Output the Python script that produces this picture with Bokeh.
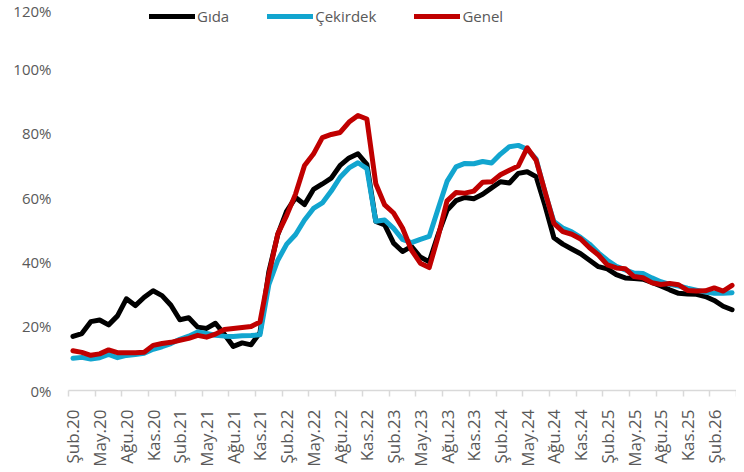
from bokeh.plotting import figure
from bokeh.models import FixedTicker, PrintfTickFormatter, Range1d, Legend, LegendItem
from bokeh.embed import file_html
from bokeh.resources import INLINE

# Monthly data, Şub.20 (Feb 2020) ... Nis.26 (Apr 2026)
gida = [
    16.8, 17.7, 21.4, 21.9, 20.4, 23.2, 28.5, 26.4, 29.0, 31.0,
    29.5, 26.5, 22.0, 22.6, 19.7, 19.3, 20.9, 17.5, 13.7, 14.8,
    14.2, 18.0, 37.0, 48.5, 55.8, 60.0, 57.8, 62.5, 64.2, 66.0,
    70.0, 72.3, 73.6, 70.3, 52.6, 51.5, 45.8, 43.2, 44.8, 41.5,
    40.0, 48.5, 56.0, 59.0, 60.0, 59.6, 61.0, 63.0, 64.9, 64.5,
    67.5, 68.0, 66.5, 57.5, 47.5, 45.5, 44.0, 42.5, 40.5, 38.5,
    37.8, 36.0, 35.0, 34.8, 34.6, 33.6, 32.5, 31.3, 30.2, 30.0,
    29.9, 29.2, 28.0, 26.2, 25.1,
]
cekirdek = [
    10.0, 10.3, 9.8, 10.2, 11.2, 10.2, 10.9, 11.2, 11.6, 12.8,
    13.6, 14.6, 15.9, 16.9, 18.2, 17.7, 17.2, 16.9, 16.8, 17.0,
    17.1, 17.3, 33.0, 40.5, 45.5, 48.5, 53.0, 56.6, 58.3, 62.0,
    66.3, 69.2, 70.8, 69.0, 52.6, 53.0, 50.4, 47.0, 46.0, 47.0,
    47.9, 56.5, 65.0, 69.5, 70.6, 70.5, 71.2, 70.7, 73.5, 75.8,
    76.2, 75.0, 72.0, 61.5, 52.5, 50.5, 49.3, 47.6, 45.5, 42.8,
    40.5, 38.6, 37.5, 36.5, 36.4, 35.0, 33.8, 33.0, 32.5, 31.8,
    31.2, 30.6, 30.2, 30.2, 30.4,
]
genel = [
    12.37, 11.86, 10.94, 11.39, 12.62, 11.76, 11.77, 11.75, 11.89, 14.03,
    14.60, 14.97, 15.61, 16.19, 17.14, 16.59, 17.53, 18.95, 19.25, 19.58,
    19.89, 21.31, 36.08, 48.69, 54.44, 61.14, 69.97, 73.50, 78.62, 79.60,
    80.21, 83.45, 85.51, 84.39, 64.27, 57.68, 55.18, 50.51, 43.68, 39.59,
    38.21, 47.83, 58.94, 61.53, 61.36, 61.98, 64.77, 64.86, 67.07, 68.50,
    69.80, 75.45, 71.60, 61.78, 51.97, 49.38, 48.58, 47.09, 44.38, 42.12,
    39.05, 38.10, 37.86, 35.41, 35.05, 33.52, 32.95, 33.29, 32.87, 31.10,
    30.90, 31.00, 31.90, 30.90, 32.70,
]
tick_labels = [
    "Şub.20", "May.20", "Ağu.20", "Kas.20",
    "Şub.21", "May.21", "Ağu.21", "Kas.21",
    "Şub.22", "May.22", "Ağu.22", "Kas.22",
    "Şub.23", "May.23", "Ağu.23", "Kas.23",
    "Şub.24", "May.24", "Ağu.24", "Kas.24",
    "Şub.25", "May.25", "Ağu.25", "Kas.25",
    "Şub.26",
]
y_ticks = [0, 20, 40, 60, 80, 100, 120]

n = len(genel)
x = list(range(n))
label_pos = [3 * i for i in range(len(tick_labels))]
boundaries = [-0.5 + 3 * k for k in range(n // 3 + 1)]

FONT = "Open Sans"
TXT = "#595959"

p = figure(width=736, height=469, output_backend="svg", toolbar_location=None,
           x_range=Range1d(-0.5, n - 0.5), y_range=Range1d(0, 120),
           min_border_left=68, min_border_right=0, min_border_top=4, min_border_bottom=73)
p.outline_line_color = None
p.xgrid.visible = False
p.ygrid.visible = False
p.background_fill_color = "white"

r1 = p.line(x, gida, line_color="#000000", line_width=5, line_join="round", line_cap="round")
r2 = p.line(x, cekirdek, line_color="#12A5CF", line_width=5, line_join="round", line_cap="round")
r3 = p.line(x, genel, line_color="#C00000", line_width=5, line_join="round", line_cap="round")

xa = p.xaxis[0]
xa.ticker = FixedTicker(ticks=label_pos, minor_ticks=boundaries)
xa.major_label_overrides = {pos: lab for pos, lab in zip(label_pos, tick_labels)}
xa.major_label_orientation = 3.14159265 / 2
xa.major_tick_line_color = None
xa.major_tick_out = 0
xa.major_tick_in = 0
xa.minor_tick_line_color = "#d9d9d9"
xa.minor_tick_line_width = 1.5
xa.minor_tick_out = 6
xa.minor_tick_in = 0
xa.axis_line_color = "#d9d9d9"
xa.axis_line_width = 1.5
xa.major_label_standoff = 13
xa.major_label_text_font = FONT
xa.major_label_text_font_size = "17px"
xa.major_label_text_color = TXT

ya = p.yaxis[0]
ya.ticker = FixedTicker(ticks=y_ticks)
ya.formatter = PrintfTickFormatter(format="%d%%")
ya.axis_line_color = None
ya.major_tick_line_color = None
ya.minor_tick_line_color = None
ya.major_tick_out = 0
ya.major_tick_in = 0
ya.major_label_standoff = 17
ya.major_label_text_font = FONT
ya.major_label_text_font_size = "15px"
ya.major_label_text_color = TXT

legend = Legend(items=[LegendItem(label="Gıda", renderers=[r1]),
                       LegendItem(label="Çekirdek", renderers=[r2]),
                       LegendItem(label="Genel", renderers=[r3])],
                orientation="horizontal", location=(81, 364),
                glyph_width=46, glyph_height=16, label_height=16, label_standoff=2,
                spacing=38, padding=0, margin=0,
                border_line_color=None, background_fill_alpha=0,
                label_text_font=FONT, label_text_font_size="15px", label_text_color=TXT)
p.add_layout(legend, "center")

open("out.html", "w").write(file_html(p, INLINE))
